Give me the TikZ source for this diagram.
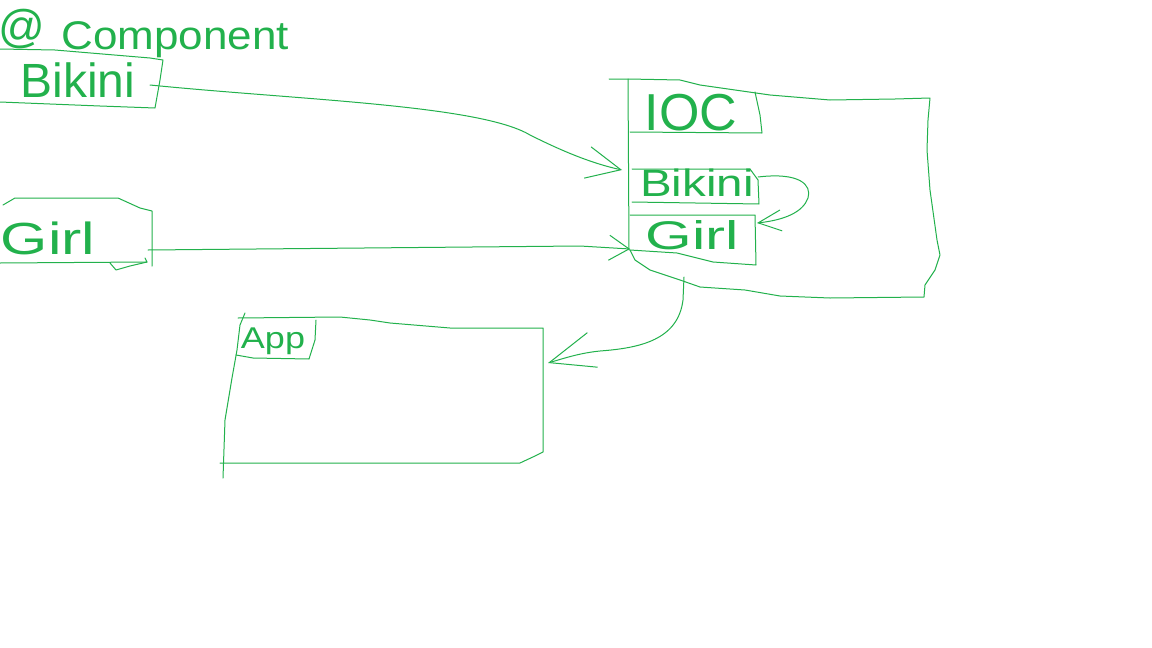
\documentclass[tikz,border=0pt]{standalone}
\usepackage{fontspec}
\usepackage{graphicx}
\setmainfont{Liberation Sans}
\usetikzlibrary{arrows.meta}
\definecolor{pg}{RGB}{34,177,76}
\newcommand\hfs[1]{\fontsize{#1}{#1}\selectfont}
\begin{document}
\begin{tikzpicture}[x=1pt,y=-1pt,
  ln/.style={draw=pg,line width=1pt,line join=round,line cap=round},
  lbl/.style={text=pg,inner sep=0pt},
  con/.style={ln},
]
\useasboundingbox (0,0) rectangle (1152,648);
\fill[white] (0,0) rectangle (1152,648);

% ---------- texts ----------
\node[lbl,font=\hfs{46}] (at) at (22,29) {@};
\node[lbl,font=\hfs{40}] (comp) at (175,40) {\scalebox{1.1}[1]{Component}};
\node[lbl,font=\hfs{48}] (bik) at (78,80) {Bikini};
\node[lbl,font=\hfs{45}] (girl) at (48,238) {\scalebox{1.35}[1]{Girl}};
\node[lbl,font=\hfs{52}] (ioc) at (691,113) {IOC};
\node[lbl,font=\hfs{38}] (ibik) at (697,183) {\scalebox{1.25}[1]{Bikini}};
\node[lbl,font=\hfs{40}] (igirl) at (692,235) {\scalebox{1.5}[1]{Girl}};
\node[lbl,font=\hfs{30}] (app) at (273,341) {\scalebox{1.2}[1]{App}};

% ---------- outer Bikini box ----------
\draw[ln] (0,49) -- (55,50) -- (150,58) -- (163,60) -- (160,80) -- (155,108) -- (100,106) -- (0,102);
% ---------- outer Girl box ----------
\draw[ln] (3,205) -- (15,198) -- (118,198) -- (140,208) -- (152,211) -- (152,266);
\draw[ln] (0,263) -- (147,262) -- (145,258);
\draw[ln] (110,263) -- (116,270) -- (130,266) -- (147,262);

% ---------- IOC container ----------
\draw[ln] (609,79) -- (628,79) -- (680,80) -- (700,85) -- (770,95) -- (830,100) -- (895,99) -- (930,98)
  -- (928,120) -- (927,150) -- (930,190) -- (937,240) -- (940,255) -- (935,270) -- (925,285) -- (924,297)
  -- (830,298) -- (780,296) -- (745,290) -- (700,287) -- (680,280) -- (650,270) -- (635,260) -- (630,250);
\draw[ln] (628,79) -- (629,250);
% IOC inner box
\draw[ln] (755,92) -- (760,115) -- (762,133) -- (630,132);
% Bikini inner box
\draw[ln] (632,169) -- (750,169) -- (758,180) -- (759,204) -- (632,202);
% Girl inner box
\draw[ln] (630,215) -- (755,215) -- (756,265) -- (713,262) -- (677,253) -- (630,250);

% ---------- App box ----------
\draw[ln] (245,313) -- (240,325) -- (237,350) -- (232,378) -- (225,420) -- (223,478);
\draw[ln] (238,318) -- (340,317) -- (370,320) -- (390,323) -- (450,328) -- (543,328)
  -- (543,452) -- (535,456) -- (520,463) -- (220,463);
% App label box
\draw[ln] (316,320) -- (315,340) -- (309,359) -- (253,358) -- (236,355);

% ---------- connector anchors ----------
\coordinate (bikOut) at (150,85);
\coordinate (iocInB) at (622,170);
\coordinate (girlOut) at (148,250);
\coordinate (iocInG) at (630,249);
\coordinate (ibikOut) at (758,177);
\coordinate (igirlIn) at (757,223);
\coordinate (iocOut) at (684,277);
\coordinate (appIn) at (548,363);

% ---------- connectors ----------
\draw[con,-{Straight Barb[length=34pt,width=32pt]}] (bikOut) .. controls (300,100) and (480,105) .. (530,135)
  .. controls (560,150) and (590,163) .. (iocInB);
\draw[con,-{Straight Barb[length=20pt,width=25pt]}] (girlOut) -- (580,246) -- (iocInG);
\draw[con,-{Straight Barb[length=23pt,width=21pt]}] (ibikOut) .. controls (800,172) and (812,185) .. (808,198)
  .. controls (803,212) and (785,220) .. (igirlIn);
\draw[con,-{Straight Barb[length=45pt,width=36pt]}] (iocOut) -- (683,300) .. controls (678,340) and (640,348) .. (600,351)
  .. controls (580,353) and (565,358) .. (appIn);
\end{tikzpicture}
\end{document}
